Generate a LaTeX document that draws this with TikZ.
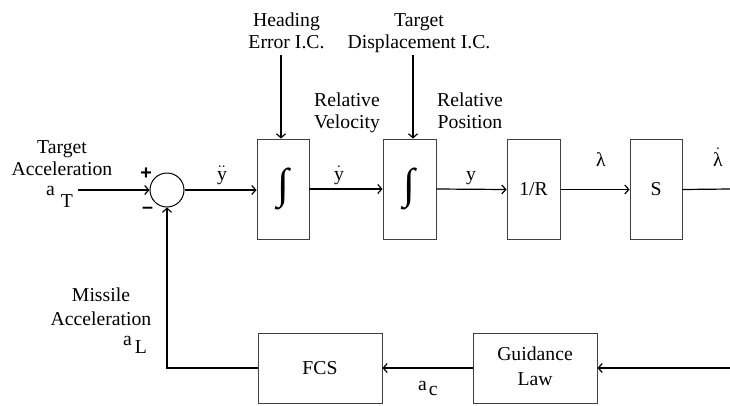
\documentclass[tikz,border=0pt]{standalone}
\usepackage{graphicx}
\usepackage{fontspec}
\setmainfont{Liberation Serif}
\setsansfont{Liberation Sans}
\usetikzlibrary{arrows.meta}

% integral sign drawn from the text font, stretched to a fixed total height
\newcommand{\bigintsign}{\raisebox{5pt}{\resizebox*{!}{42pt}{∫}}}

\begin{document}
\begin{tikzpicture}[x=1pt,y=-1pt,
  lbl/.style={font=\fontsize{19.7}{22}\selectfont, inner sep=0pt, anchor=base},
  lblwide/.style={font=\fontsize{19.7}{24.5}\selectfont, inner sep=0pt, anchor=base},
  blk/.style={draw=black!75, line width=0.9pt, minimum width=52pt, minimum height=100pt,
              inner sep=0pt, font=\fontsize{19.7}{24.5}\selectfont},
  wide/.style={minimum width=124pt, minimum height=70pt},
  wire/.style={line width=1.2pt},
  sig/.style={wire, -{Straight Barb[length=4pt,width=9pt,line width=1.2pt]}},
  sgn/.style={font=\fontsize{19.7}{22}\selectfont\sffamily\bfseries, inner sep=0pt}
]
\useasboundingbox (0,0) rectangle (730,405);

% forward path blocks
\node[draw, circle, minimum size=34pt, inner sep=0pt, line width=1pt] (sum) at (167,190) {};
\node[blk] (int1) at (283,189) {\bigintsign};
\node[blk, minimum width=53pt] (int2) at (409.5,189) {\bigintsign};
\node[blk, minimum width=53pt] (invR) at (533.5,189.5) {1/R};
\node[blk] (S) at (656,189.5) {S};

% feedback path blocks
\node[blk, wide] (fcs) at (320,368) {FCS};
\node[blk, wide] (gl) at (535,368) {\begin{tabular}{@{}c@{}}Guidance\\Law\end{tabular}};

% free ends of the connectors
\coordinate (aT) at (78,190);
\coordinate (lamdot) at (730,189);
\coordinate (fbin) at (730,368);
\coordinate (ic1) at (281,55);
\coordinate (ic2) at (413,55);

% connectors
\draw[sig] (aT) -- (sum.west);
\draw[sig] (sum.east) -- (sum.east -| int1.west);
\draw[sig] (int1.east) -- (int2.west);
\draw[sig] (int2.east) -- (invR.west);
\draw[sig] (invR.east) -- (S.west);
\draw[wire] (S.east) -- (lamdot);
\draw[sig] (ic1) -- (ic1 |- int1.north);
\draw[sig] (ic2) -- (ic2 |- int2.north);
\draw[sig] (fbin) -- (gl.east);
\draw[sig] (gl.west) -- (fcs.east);
\draw[sig] (fcs.west) -| (sum.south);

% signs at the summing junction
\node[sgn] (plus) at (146,173.5) {+};
\node[sgn] (minus) at (147.5,210) {–};

% labels
\node[lbl] (tgtacc) at (62,153.3) {\begin{tabular}[t]{@{}c@{}}Target\\Acceleration\end{tabular}};
\node[lbl, anchor=base west] (aTlbl) at (46,195) {a\hspace{6pt}\raisebox{-12pt}{T}};
\node[lbl] (headic) at (286.5,26.5) {\begin{tabular}[t]{@{}c@{}}Heading\\Error I.C.\end{tabular}};
\node[lbl] (dispic) at (419,26.5) {\begin{tabular}[t]{@{}c@{}}Target\\Displacement I.C.\end{tabular}};
\node[lbl] (relvel) at (347,106) {\begin{tabular}[t]{@{}c@{}}Relative\\Velocity\end{tabular}};
\node[lbl] (relpos) at (470,106) {\begin{tabular}[t]{@{}c@{}}Relative\\Position\end{tabular}};
\node[lbl] (yddot) at (222,180) {$\ddot{\hbox{y}}$};
\node[lbl] (ydot) at (339,180) {$\dot{\hbox{y}}$};
\node[lbl] (ypos) at (471,180) {y};
\node[lbl] (lam) at (601,166.7) {λ};
\node[lbl] (lamd) at (718,166) {$\dot{\hbox{λ}}$};
\node[lblwide] (misacc) at (101,301) {\begin{tabular}[t]{@{}c@{}}Missile\\Acceleration\end{tabular}};
\node[lbl, anchor=base west] (aLlbl) at (123,345) {a\hspace{3pt}\raisebox{-8pt}{L}};
\node[lbl, anchor=base west] (aclbl) at (418,390.7) {a\hspace{2pt}\raisebox{-4.5pt}{c}};
\end{tikzpicture}
\end{document}
